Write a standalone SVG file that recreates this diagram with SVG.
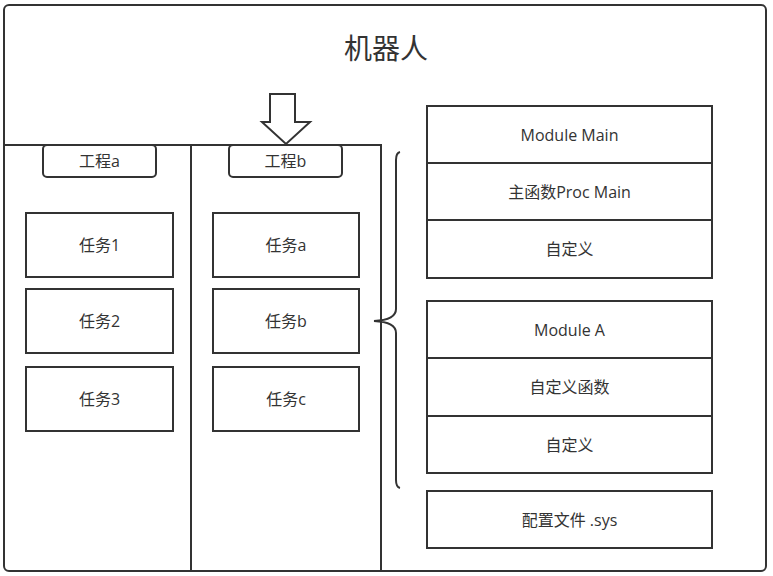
<svg xmlns="http://www.w3.org/2000/svg" width="773" height="576" viewBox="0 0 773 576">
<style>
.box{fill:#fff;stroke:#333;stroke-width:2}
.ln{fill:none;stroke:#333;stroke-width:2}
text{font-family:"Open Sans","Noto Sans CJK SC",sans-serif;fill:#333;text-anchor:middle;dominant-baseline:central;font-size:16px}
.title{font-size:28px}
</style>
<rect width="773" height="576" fill="#fff"/>
<g id="robot">
<rect class="box" x="4" y="5" width="762" height="566" rx="5"/>
<text class="title" x="386" y="48">机器人</text>
</g>
<g id="projects">
<path class="ln" d="M4,145 H381 V571 M191,145 V571"/>
</g>
<g id="projA">
<rect class="box" x="43" y="145" width="113" height="32" rx="4"/>
<text x="99.5" y="161">工程a</text>
</g>
<g id="projB">
<rect class="box" x="229" y="145" width="113" height="32" rx="4"/>
<text x="285.5" y="161">工程b</text>
</g>
<g id="task1"><rect class="box" x="26" y="213" width="147" height="64"/><text x="99.5" y="245">任务1</text></g>
<g id="task2"><rect class="box" x="26" y="289" width="147" height="64"/><text x="99.5" y="321">任务2</text></g>
<g id="task3"><rect class="box" x="26" y="367" width="147" height="64"/><text x="99.5" y="399">任务3</text></g>
<g id="taskA"><rect class="box" x="213" y="213" width="146" height="64"/><text x="286" y="245">任务a</text></g>
<g id="taskB"><rect class="box" x="213" y="289" width="146" height="64"/><text x="286" y="321">任务b</text></g>
<g id="taskC"><rect class="box" x="213" y="367" width="146" height="64"/><text x="286" y="399">任务c</text></g>
<g id="moduleMain">
<rect class="box" x="427" y="106" width="285" height="57"/><text x="569.5" y="134.5">Module Main</text>
<rect class="box" x="427" y="163" width="285" height="57"/><text x="569.5" y="191.5">主函数Proc Main</text>
<rect class="box" x="427" y="220" width="285" height="58"/><text x="569.5" y="249">自定义</text>
</g>
<g id="moduleA">
<rect class="box" x="427" y="301" width="285" height="57"/><text x="569.5" y="329.5">Module A</text>
<rect class="box" x="427" y="358" width="285" height="58"/><text x="569.5" y="387">自定义函数</text>
<rect class="box" x="427" y="416" width="285" height="57"/><text x="569.5" y="444.5">自定义</text>
</g>
<g id="config">
<rect class="box" x="427" y="491" width="285" height="57"/><text x="569.5" y="519.5">配置文件 .sys</text>
</g>
<g id="connectors">
<path class="box" d="M270,94 H295 V122 H310 L286,144 L262,122 H270 Z"/>
<path class="ln" d="M400,152 Q396,153 396,160 L396,309 Q396,320 374,321 Q396,322 396,333 L396,480 Q396,487 400,488"/>
</g>
</svg>
